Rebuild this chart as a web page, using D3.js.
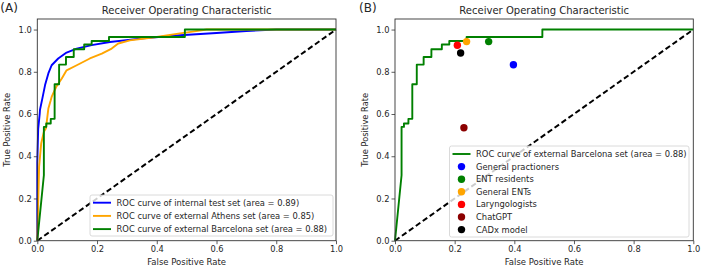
<!DOCTYPE html>
<html><head><meta charset="utf-8">
<script src="https://cdn.jsdelivr.net/npm/d3@7"></script>
<style>body{margin:0;background:#fff}svg{display:block}text{font-family:"DejaVu Sans",sans-serif;fill:#262626}</style>
</head><body><svg id="c" width="702" height="267"></svg>
<script>
// ---- data ----
const ticks = [0, 0.2, 0.4, 0.6, 0.8, 1.0];
const tickLabels = ["0.0", "0.2", "0.4", "0.6", "0.8", "1.0"];
const fprInternal = [0, 0, 0.003, 0.008, 0.009, 0.017, 0.026, 0.037, 0.048, 0.070, 0.098, 0.132, 0.182, 0.243, 0.344, 0.478, 0.60, 0.70, 0.80, 1.0];
const tprInternal = [0, 0.37, 0.53, 0.60, 0.62, 0.674, 0.737, 0.792, 0.831, 0.863, 0.891, 0.910, 0.926, 0.941, 0.957, 0.973, 0.984, 0.993, 1.0, 1.0];
const fprAthens = [0, 0.006, 0.013, 0.022, 0.029, 0.037, 0.045, 0.048, 0.063, 0.082, 0.098, 0.132, 0.176, 0.216, 0.249, 0.271, 0.31, 0.40, 0.472, 0.52, 0.567, 1.0];
const tprAthens = [0, 0.35, 0.46, 0.516, 0.532, 0.626, 0.665, 0.681, 0.728, 0.768, 0.807, 0.831, 0.863, 0.886, 0.910, 0.934, 0.949, 0.965, 0.981, 0.99, 1.0, 1.0];
const fprBarcelona = [0, 0.022, 0.022, 0.030, 0.030, 0.045, 0.045, 0.058, 0.058, 0.073, 0.073, 0.096, 0.096, 0.122, 0.122, 0.157, 0.157, 0.182, 0.182, 0.240, 0.240, 0.494, 0.494, 1.0];
const tprBarcelona = [0, 0.31, 0.539, 0.539, 0.555, 0.555, 0.577, 0.577, 0.741, 0.741, 0.834, 0.834, 0.870, 0.870, 0.907, 0.907, 0.929, 0.929, 0.946, 0.946, 0.965, 0.965, 1.0, 1.0];
const readerNames = ["General practioners", "ENT residents", "General ENTs", "Laryngologists", "ChatGPT", "CADx model"];
const readerFpr = [0.397, 0.314, 0.240, 0.209, 0.231, 0.220];
const readerTpr = [0.833, 0.943, 0.943, 0.926, 0.535, 0.889];
const readerColors = ["blue", "green", "orange", "red", "darkred", "black"];
const curvesA = [
  {label: "ROC curve of internal test set (area = 0.89)", fpr: fprInternal, tpr: tprInternal, color: "blue"},
  {label: "ROC curve of external Athens set (area = 0.85)", fpr: fprAthens, tpr: tprAthens, color: "orange"},
  {label: "ROC curve of external Barcelona set (area = 0.88)", fpr: fprBarcelona, tpr: tprBarcelona, color: "green"}
];
const curvesB = [curvesA[2]];

const svg = d3.select("#c");
function fit(sel, w) {
  const n = sel.node();
  const l = n.getComputedTextLength();
  const fs = parseFloat(sel.attr("font-size"));
  sel.attr("font-size", fs * w / l);
}

function panel(x0, x1, tag, curves, readers, legendBox) {
  const x = d3.scaleLinear().domain([0, 1]).range([x0, x1]);
  const y = d3.scaleLinear().domain([0, 1.05]).range([240.7, 19]);
  const g = svg.append("g");
  // diagonal
  g.append("line").attr("x1", x(0)).attr("y1", y(0)).attr("x2", x(1)).attr("y2", y(1))
    .attr("stroke", "#000").attr("stroke-width", 2).attr("stroke-dasharray", "5.5,3");
  const line = d3.line().x(d => x(d[0])).y(d => y(d[1]));
  curves.forEach(c => {
    g.append("path").attr("d", line(c.fpr.map((v, i) => [v, c.tpr[i]])))
      .attr("fill", "none").attr("stroke", c.color).attr("stroke-width", 1.9).attr("stroke-linejoin", "round");
  });
  if (readers) {
    readerFpr.forEach((v, i) => {
      g.append("circle").attr("cx", x(v)).attr("cy", y(readerTpr[i])).attr("r", 3.7).attr("fill", readerColors[i]);
    });
  }
  // axes
  const xa = g.append("g").attr("transform", `translate(0,${y(0)})`)
    .call(d3.axisBottom(x).tickValues(ticks).tickFormat((d, i) => tickLabels[i]).tickSize(3.5).tickPadding(2));
  const ya = g.append("g").attr("transform", `translate(${x0},0)`)
    .call(d3.axisLeft(y).tickValues(ticks).tickFormat((d, i) => tickLabels[i]).tickSize(3.5).tickPadding(2));
  [xa, ya].forEach(a => {
    a.select(".domain").remove();
    a.selectAll("line").attr("stroke", "#333").attr("stroke-width", 0.8);
    a.selectAll("text").attr("font-size", 8.3).attr("fill", "#333").attr("font-family", "DejaVu Sans");
  });
  g.append("rect").attr("x", x0).attr("y", 19).attr("width", x1 - x0).attr("height", y(0) - 19)
    .attr("fill", "none").attr("stroke", "#333").attr("stroke-width", 0.9);
  // title & labels
  const t = g.append("text").attr("x", (x0 + x1) / 2).attr("y", 14).attr("text-anchor", "middle")
    .attr("font-size", 10).text("Receiver Operating Characteristic");
  fit(t, 170);
  const xl = g.append("text").attr("x", (x0 + x1) / 2).attr("y", 265).attr("text-anchor", "middle")
    .attr("font-size", 9).text("False Positive Rate");
  fit(xl, 79);
  const yl = g.append("text").attr("transform", `translate(${x0 - 27},${(19 + y(0)) / 2}) rotate(-90)`)
    .attr("text-anchor", "middle").attr("font-size", 9).text("True Positive Rate");
  fit(yl, 74);
  g.append("text").attr("x", x0 - 37 + (tag === "(B)" ? 1 : 0)).attr("y", 12).attr("font-size", 12).text(tag);
  // legend
  const lb = legendBox;
  g.append("rect").attr("x", lb.x).attr("y", lb.y).attr("width", lb.w).attr("height", lb.h).attr("rx", 2)
    .attr("fill", "#fff").attr("fill-opacity", 0.8).attr("stroke", "#d0d0d0").attr("stroke-width", 0.8);
  const items = curves.map(c => ({type: "line", label: c.label, color: c.color}));
  if (readers) readerNames.forEach((n, i) => items.push({type: "dot", label: n, color: readerColors[i]}));
  items.forEach((it, i) => {
    const yy = lb.y + lb.first + i * lb.step;
    if (it.type === "line") {
      g.append("line").attr("x1", lb.x + 3).attr("x2", lb.x + 21).attr("y1", yy).attr("y2", yy)
        .attr("stroke", it.color).attr("stroke-width", 1.9);
    } else {
      g.append("circle").attr("cx", lb.x + 12).attr("cy", yy).attr("r", 3.7).attr("fill", it.color);
    }
    g.append("text").attr("class", "lt").attr("x", lb.x + 26.5).attr("y", yy).attr("dy", "0.35em")
      .attr("font-size", 8.3).text(it.label);
  });
  return g;
}

const gA = panel(37.3, 336, "(A)", curvesA, false, {x: 90, y: 195, w: 243, h: 41, first: 7.7, step: 13.2});
const gB = panel(395, 693.3, "(B)", curvesB, true, {x: 449.5, y: 146, w: 239.5, h: 91, first: 8, step: 12.6});
// shared legend font size, fitted to the Barcelona label width
const ref = gA.selectAll("text.lt").filter(function() { return this.textContent.includes("Barcelona"); });
fit(ref, 211);
const fs = ref.attr("font-size");
svg.selectAll("text.lt").attr("font-size", fs);
</script></body></html>
